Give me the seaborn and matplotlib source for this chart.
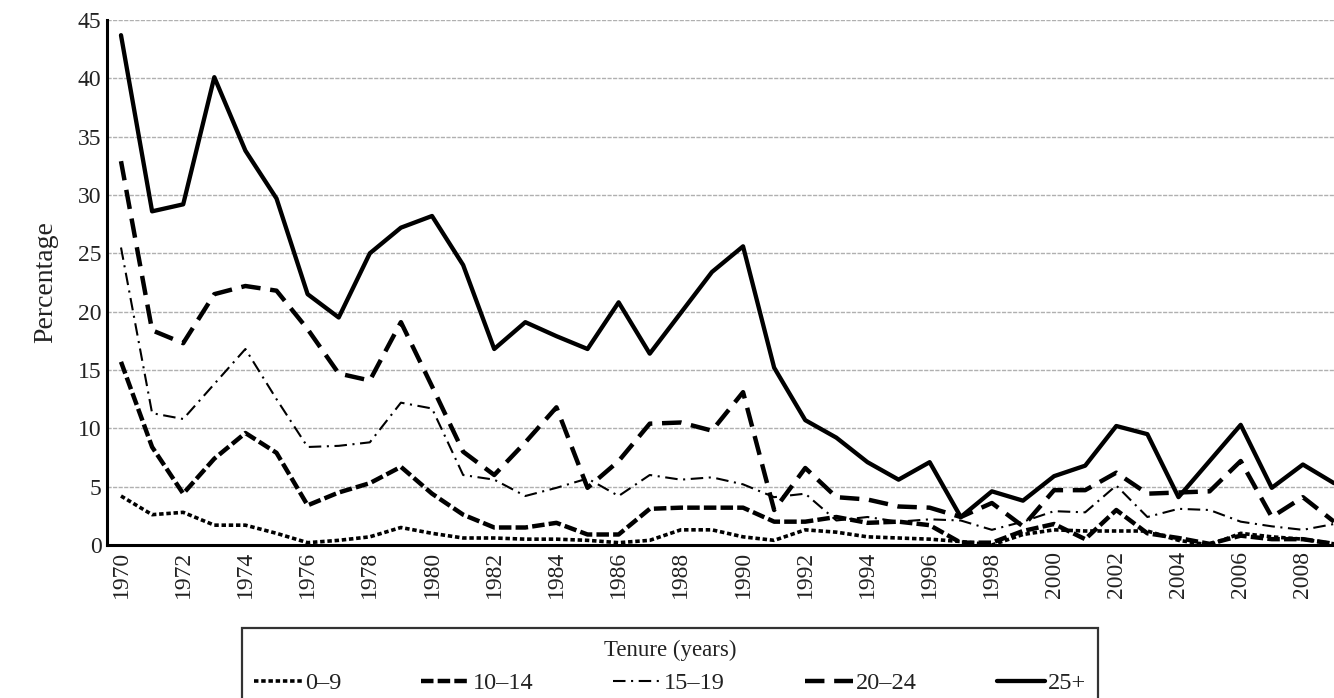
import numpy as np
import pandas as pd
import matplotlib
matplotlib.use("Agg")
import matplotlib.pyplot as plt
import seaborn as sns

years = list(range(1970, 2010))
tick_years = list(range(1970, 2009, 2))
y_ticks = [0, 5, 10, 15, 20, 25, 30, 35, 40, 45]

t_0_9 = [4.2, 2.6, 2.8, 1.7, 1.7, 1.0, 0.2, 0.4, 0.7, 1.5, 1.0, 0.6, 0.6, 0.5, 0.5,
         0.4, 0.2, 0.4, 1.3, 1.3, 0.7, 0.4, 1.3, 1.1, 0.7, 0.6, 0.5, 0.3, 0.0, 0.9,
         1.3, 1.2, 1.2, 1.2, 0.4, 0.0, 1.0, 0.7, 0.5, 0.1]
t_10_14 = [15.7, 8.4, 4.4, 7.4, 9.6, 7.9, 3.4, 4.5, 5.3, 6.7, 4.4, 2.6, 1.5, 1.5, 1.9,
           0.9, 0.9, 3.1, 3.2, 3.2, 3.2, 2.0, 2.0, 2.4, 1.9, 2.0, 1.7, 0.2, 0.2, 1.2,
           1.8, 0.5, 3.0, 1.0, 0.6, 0.1, 0.8, 0.5, 0.5, 0.1]
t_15_19 = [25.5, 11.3, 10.8, 13.8, 16.8, 12.5, 8.4, 8.5, 8.8, 12.2, 11.7, 6.0, 5.6, 4.2, 4.9,
           5.7, 4.2, 6.0, 5.6, 5.8, 5.2, 4.1, 4.4, 2.1, 2.4, 2.0, 2.2, 2.1, 1.3, 2.0,
           2.9, 2.8, 5.1, 2.4, 3.1, 3.0, 2.0, 1.6, 1.3, 1.8]
t_20_24 = [32.9, 18.4, 17.3, 21.5, 22.2, 21.8, 18.5, 14.7, 14.1, 19.1, 13.6, 8.0, 6.0, 8.8, 11.8,
           4.9, 7.2, 10.4, 10.5, 9.8, 13.1, 3.0, 6.6, 4.1, 3.9, 3.3, 3.2, 2.4, 3.6, 1.6,
           4.7, 4.7, 6.2, 4.4, 4.5, 4.6, 7.2, 2.4, 4.1, 2.0]
t_25p = [43.7, 28.6, 29.2, 40.1, 33.8, 29.7, 21.5, 19.5, 25.0, 27.2, 28.2, 24.0, 16.8, 19.1, 17.9,
         16.8, 20.8, 16.4, 19.9, 23.4, 25.6, 15.2, 10.7, 9.2, 7.1, 5.6, 7.1, 2.4, 4.6, 3.8,
         5.9, 6.8, 10.2, 9.5, 4.1, 7.2, 10.3, 4.9, 6.9, 5.3]

labels = ["0\u20139", "10\u201314", "15\u201319", "20\u201324", "25+"]
series = [t_0_9, t_10_14, t_15_19, t_20_24, t_25p]

styles = {
    labels[0]: dict(lw=2.6, ls=(0, (3.2, 2.0))),
    labels[1]: dict(lw=3.2, ls=(0, (9.0, 3.0))),
    labels[2]: dict(lw=1.5, ls=(0, (9.0, 4.0, 1.5, 4.0))),
    labels[3]: dict(lw=3.2, ls=(0, (14.0, 7.0))),
    labels[4]: dict(lw=3.1, ls="-"),
}

df = pd.DataFrame({"Year": years * len(labels),
                   "Percentage": sum(series, []),
                   "Tenure": np.repeat(labels, len(years))})

sns.set_theme(style="white")
plt.rcParams["font.family"] = ["Liberation Serif", "DejaVu Serif"]
plt.rcParams["lines.scale_dashes"] = False

fig = plt.figure(figsize=(13.34, 6.98), dpi=100)
ax = fig.add_axes([107 / 1334, 1 - 545 / 698, 1 - 107 / 1334, (545 - 20) / 698])

for lab in labels:
    st = styles[lab]
    sns.lineplot(data=df[df["Tenure"] == lab], x="Year", y="Percentage", ax=ax,
                 color="black", linewidth=st["lw"], linestyle=st["ls"], label=lab,
                 legend=False)

ax.set_xlim(1969.55, 2009.0)
ax.set_ylim(0, 45)
ax.set_yticks(y_ticks)
ax.set_xticks(tick_years)
ax.set_xticklabels([str(y) for y in tick_years], rotation=90)
ax.tick_params(axis="both", length=0, labelsize=17, colors="#222222", pad=4)
ax.yaxis.grid(True, color="#b0b0b0", linestyle=(0, (3, 1)), linewidth=1.0)
ax.xaxis.grid(False)
ax.set_axisbelow(True)
for s in ["top", "right"]:
    ax.spines[s].set_visible(False)
for s in ["left", "bottom"]:
    ax.spines[s].set_color("black")
    ax.spines[s].set_linewidth(2.2)
ax.set_xlabel("")
ax.set_ylabel("Percentage", fontsize=20, color="#222222", labelpad=14)

handles = ax.get_lines()[:len(labels)]
leg = fig.legend(handles, labels, loc="upper left",
                 bbox_to_anchor=(242 / 1334, 0.0, 856 / 1334, 1 - 628 / 698),
                 mode="expand", ncol=5, title="Tenure (years)", fontsize=17.5,
                 title_fontsize=16.5, frameon=True, fancybox=False,
                 handlelength=2.0, handletextpad=0.1, borderpad=0.5,
                 labelspacing=0.45, borderaxespad=0.0)
leg.get_frame().set_edgecolor("black")
leg.get_frame().set_linewidth(1.6)
for t in leg.get_texts():
    t.set_color("#222222")
leg.get_title().set_color("#222222")

fig.savefig("out.png", dpi=100)
